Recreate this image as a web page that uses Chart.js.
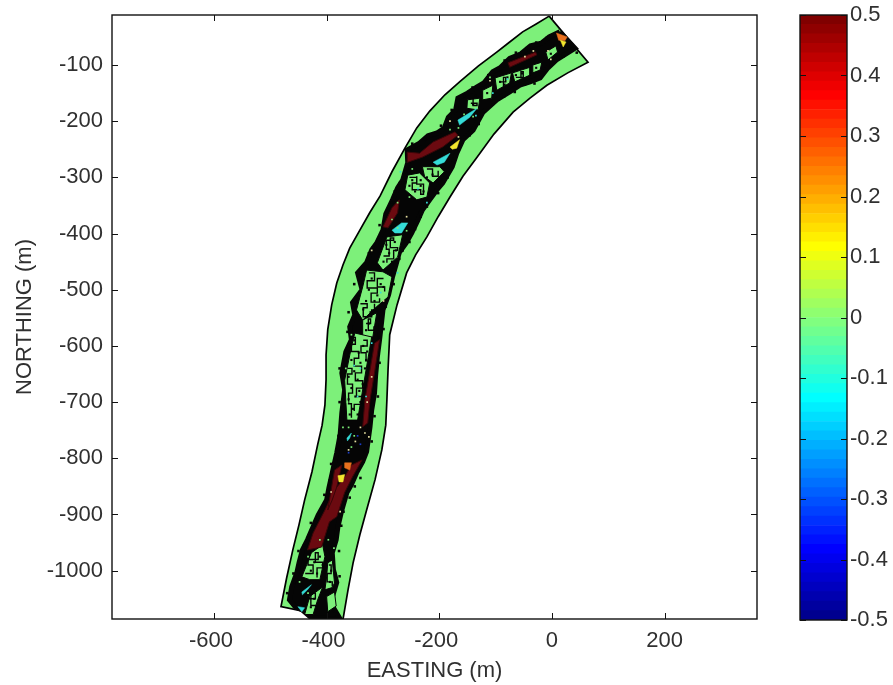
<!DOCTYPE html>
<html>
<head>
<meta charset="utf-8">
<title>Easting / Northing</title>
<script src="https://cdn.jsdelivr.net/npm/chart.js@4/dist/chart.umd.min.js"></script>
<style>
    html, body { margin: 0; padding: 0; background: #fff; }
    #wrap { position: relative; width: 893px; height: 685px; overflow: hidden; }
    #mapChart { position: absolute; left: 0; top: 0; }
    #barChart { position: absolute; left: 790px; top: 0; }
</style>
</head>
<body>
<div id="wrap">
    <canvas id="mapChart" width="893" height="685"></canvas>
    <canvas id="barChart" width="103" height="685"></canvas>
</div>
<script>
// Tick labels
const eastingTicks = [-600, -400, -200, 0, 200];
const northingTicks = [-100, -200, -300, -400, -500, -600, -700, -800, -900, -1000];
const colorbarTicks = [-0.5, -0.4, -0.3, -0.2, -0.1, 0, 0.1, 0.2, 0.3, 0.4, 0.5];

// Survey swath outline, [easting, northing]
const swathOutline = [
    [-5, -13], [-28, -27], [-52, -41], [-75, -59], [-98, -77], [-131, -102], [-163, -129], [-190, -153], [-217, -182],
    [-240, -212], [-261, -248], [-284, -290], [-305, -333], [-323, -362], [-341, -394], [-359, -426], [-371, -456],
    [-382, -488], [-391, -527], [-398, -571], [-401, -616], [-401, -660], [-403, -705], [-408, -741], [-416, -776],
    [-426, -824], [-439, -874], [-449, -918], [-460, -963], [-471, -1013], [-481, -1064],
    [-371, -1087], [-362, -1034], [-353, -986], [-341, -936], [-329, -892], [-314, -838], [-302, -785], [-295, -741],
    [-293, -696], [-291, -643], [-288, -580], [-275, -527], [-258, -470], [-242, -438], [-222, -406], [-202, -370],
    [-181, -335], [-158, -298], [-133, -264], [-103, -223], [-69, -184], [-39, -159], [-9, -136], [28, -114], [64, -95],
    [-5, -13]
];

// Contoured channel, mostly black at this scale
const channelCore = [
    [14, -41], [-5, -50], [-19, -61], [-38, -66], [-55, -80], [-75, -88], [-92, -105], [-105, -112], [-121, -132],
    [-133, -139], [-150, -150], [-167, -159], [-171, -180], [-184, -193], [-191, -212], [-204, -221], [-220, -226],
    [-235, -239], [-257, -251], [-256, -274], [-265, -305], [-274, -319], [-283, -340], [-295, -365], [-300, -394],
    [-311, -417], [-320, -429], [-329, -452], [-345, -470], [-337, -500], [-354, -523], [-350, -545], [-359, -566],
    [-356, -589], [-366, -611], [-373, -648], [-368, -678], [-373, -719], [-376, -758], [-382, -790], [-390, -826],
    [-396, -853], [-400, -874], [-415, -901], [-424, -922], [-434, -945], [-443, -963], [-449, -986], [-453, -1004],
    [-462, -1029], [-466, -1052], [-456, -1064], [-443, -1070], [-427, -1084], [-376, -1086], [-393, -1057],
    [-382, -1021], [-388, -998], [-390, -968], [-383, -945], [-380, -922], [-373, -892], [-364, -861], [-356, -847],
    [-347, -826], [-336, -806], [-329, -788], [-323, -744], [-320, -714], [-315, -684], [-313, -652], [-310, -620],
    [-306, -589], [-303, -563], [-300, -536], [-290, -509], [-283, -477], [-277, -456], [-271, -434], [-259, -417],
    [-249, -399], [-238, -376], [-230, -358], [-217, -340], [-204, -322], [-194, -310], [-177, -281], [-169, -257],
    [-158, -233], [-140, -216], [-123, -185], [-98, -162], [-75, -148], [-57, -136], [-39, -130], [-21, -123],
    [-7, -105], [8, -91], [41, -70], [14, -41]
];

// Near-zero patches inside the channel
const flatPatches = [
    [[-11, -77], [7, -66], [10, -77], [-7, -91], [-11, -77]],
    [[-34, -100], [-18, -95], [-21, -109], [-34, -114], [-34, -100]],
    [[-70, -114], [-39, -104], [-39, -118], [-66, -130], [-70, -114]],
    [[-101, -123], [-72, -114], [-75, -132], [-98, -145], [-101, -123]],
    [[-123, -145], [-105, -136], [-107, -159], [-123, -162], [-123, -145]],
    [[-150, -162], [-128, -159], [-131, -180], [-151, -177], [-150, -162]],
    [[-256, -296], [-235, -292], [-217, -310], [-222, -335], [-240, -340], [-261, -322], [-256, -296]],
    [[-230, -281], [-199, -281], [-191, -290], [-211, -310], [-226, -299], [-230, -281]],
    [[-293, -406], [-265, -402], [-274, -442], [-300, -465], [-310, -452], [-293, -406]],
    [[-329, -465], [-300, -468], [-284, -477], [-291, -513], [-311, -530], [-336, -554], [-347, -536], [-336, -495], [-329, -465]],
    [[-336, -554], [-311, -541], [-318, -584], [-337, -584], [-336, -554]],
    [[-350, -577], [-320, -584], [-327, -625], [-337, -684], [-345, -732], [-364, -732], [-368, -661], [-356, -602], [-350, -577]],
    [[-427, -968], [-407, -954], [-403, -975], [-412, -1016], [-430, -1016], [-444, -1011], [-434, -986], [-427, -968]],
    [[-398, -986], [-390, -981], [-386, -1022], [-390, -1030], [-403, -1034], [-400, -1011], [-398, -986]],
    [[-430, -1046], [-407, -1029], [-416, -1052], [-424, -1078], [-439, -1078], [-430, -1046]],
    [[-400, -1046], [-386, -1038], [-383, -1063], [-398, -1073], [-400, -1046]]
];

// Highest values
const highPatches = [
    [[-257, -255], [-235, -257], [-211, -237], [-172, -219], [-167, -225], [-194, -246], [-230, -264], [-256, -273], [-257, -255]],
    [[-78, -96], [-29, -77], [-27, -82], [-75, -104], [-78, -96]],
    [[-300, -388], [-284, -354], [-271, -340], [-274, -363], [-291, -390], [-300, -388]],
    [[-306, -589], [-315, -648], [-323, -696], [-327, -737], [-336, -744], [-332, -696], [-323, -643], [-315, -595], [-306, -589]],
    [[-337, -803], [-354, -833], [-368, -861], [-382, -904], [-395, -913], [-409, -958], [-434, -963], [-424, -933], [-403, -892], [-386, -856], [-371, -838], [-356, -812], [-337, -803]],
    [[-386, -821], [-373, -812], [-382, -851], [-390, -874], [-398, -892], [-386, -821]]
];

const orangePatches = [
    [[8, -43], [27, -50], [23, -57], [12, -56], [8, -43]],
    [[-368, -808], [-356, -808], [-359, -821], [-368, -817], [-368, -808]]
];

const yellowPatches = [
    [[15, -56], [25, -59], [20, -68], [15, -56]],
    [[-181, -246], [-164, -233], [-169, -248], [-177, -250], [-181, -246]],
    [[-380, -831], [-368, -829], [-371, -842], [-378, -842], [-380, -831]]
];

const cyanPatches = [
    [[-211, -273], [-181, -257], [-191, -273], [-204, -278], [-211, -273]],
    [[-167, -198], [-133, -177], [-146, -193], [-164, -207], [-167, -198]],
    [[-284, -394], [-267, -381], [-256, -381], [-267, -399], [-279, -399], [-284, -394]],
    [[-364, -764], [-356, -755], [-359, -764], [-363, -769], [-364, -764]],
    [[-444, -1038], [-427, -1025], [-434, -1034], [-443, -1043], [-444, -1038]],
    [[-451, -1064], [-439, -1066], [-444, -1073], [-451, -1064]]
];

// Contour lines running through the near-zero patches
const contourLines = [
    [[-358, -585], [-349, -597], [-356, -610], [-343, -622], [-351, -636], [-338, -648], [-349, -662], [-336, -675], [-347, -690], [-337, -704], [-351, -716]],
    [[-335, -590], [-328, -600], [-339, -612], [-330, -628]],
    [[-363, -640], [-355, -650], [-363, -668], [-354, -684], [-361, -703], [-356, -728]],
    [[-325, -470], [-315, -484], [-328, -497], [-310, -506], [-321, -522], [-306, -515]],
    [[-299, -480], [-310, -495], [-297, -503]],
    [[-340, -525], [-328, -532], [-335, -548], [-320, -536], [-315, -525]],
    [[-330, -560], [-322, -552], [-326, -572], [-316, -565]],
    [[-299, -440], [-289, -428], [-294, -412], [-281, -408], [-287, -425], [-274, -430], [-281, -445], [-293, -452]],
    [[-253, -300], [-240, -310], [-248, -322], [-233, -330], [-228, -312], [-240, -298]],
    [[-222, -285], [-212, -298], [-202, -288]],
    [[-438, -1005], [-424, -990], [-433, -980], [-415, -968], [-420, -985], [-407, -995], [-417, -1012]],
    [[-396, -990], [-392, -1005], [-399, -1020], [-390, -1028]],
    [[-433, -1050], [-420, -1040], [-428, -1062], [-417, -1070]],
    [[-94, -130], [-82, -122], [-86, -138]],
    [[-64, -122], [-51, -112], [-55, -124]],
    [[-144, -168], [-133, -172], [-140, -160]]
];

// Small contour islands
const blackSpecks = [
    [-351, -590], [-335, -600], [-343, -612], [-328, -610], [-356, -625], [-340, -630], [-332, -640], [-351, -645],
    [-361, -655], [-345, -660], [-336, -668], [-356, -675], [-349, -690], [-340, -700], [-361, -695], [-353, -712],
    [-345, -722], [-359, -722], [-330, -625], [-342, -680], [-320, -480], [-304, -490], [-325, -500], [-310, -510],
    [-299, -495], [-330, -520], [-315, -520], [-335, -535], [-322, -540], [-294, -420], [-279, -415], [-289, -435],
    [-277, -430], [-299, -450], [-284, -450], [-248, -305], [-233, -315], [-243, -325], [-253, -315], [-228, -325],
    [-222, -300], [-212, -295], [-233, -305], [-79, -122], [-64, -118], [-92, -130], [-84, -135], [-53, -115],
    [-115, -150], [-140, -170], [-135, -155], [-28, -105], [-2, -80], [-325, -560], [-330, -572], [-422, -985],
    [-412, -975], [-428, -1000], [-417, -1005], [-392, -1000], [-394, -1020], [-422, -1050], [-428, -1065], [-407, -990]
];
// Bumps on the channel edge
const edgeSpecks = [
    [-28, -60], [-64, -78], [-84, -92], [-113, -118], [-141, -140], [-178, -180], [-197, -208], [-248, -240],
    [-260, -290], [-279, -325], [-306, -385], [-325, -435], [-351, -490], [-361, -540], [-363, -575], [-377, -640],
    [-377, -700], [-379, -760], [-392, -810], [-404, -865], [-428, -915], [-450, -965], [-459, -1005], [-470, -1040],
    [44, -78], [-2, -100], [-31, -133], [-66, -148], [-105, -170], [-146, -225], [-176, -270], [-202, -328],
    [-233, -370], [-253, -415], [-271, -445], [-281, -490], [-295, -530], [-299, -570], [-306, -630], [-309, -690],
    [-315, -725], [-320, -770], [-340, -835], [-359, -870], [-374, -920], [-378, -965], [-377, -1010], [-387, -1050],
    [-10, -52], [-45, -70], [-155, -155], [-225, -232], [-270, -310], [-285, -345], [-318, -425], [-340, -470],
    [-360, -600], [-370, -670], [-375, -730], [-395, -840], [-420, -910], [-440, -955], [-457, -1020], [20, -85],
    [-48, -135], [-85, -156], [-130, -205], [-165, -250], [-185, -300], [-222, -352], [-243, -392], [-265, -430],
    [-305, -585], [-312, -655], [-325, -750], [-350, -850], [-370, -895], [-385, -1005]
];
const greenSpecks = [
    [-110, -122], [-156, -188], [-140, -192], [-181, -215], [-166, -212], [-248, -285], [-253, -335], [-274, -345],
    [-284, -375], [-274, -390], [-258, -395], [-310, -475], [-356, -580], [-366, -640], [-363, -700], [-361, -745],
    [-351, -760], [-371, -745], [-356, -780], [-433, -1040], [-448, -1020], [-433, -975], [-412, -945], [-397, -945],
    [-387, -960]
];
const paleSpecks = [
    [-110, -128], [-181, -200], [-166, -228], [-328, -700], [-320, -655], [-340, -745], [-332, -755], [-349, -770],
    [-325, -762], [-361, -785], [-376, -895], [-392, -860], [-299, -520], [-320, -430], [-258, -370], [-33, -75],
    [-48, -85], [-7, -75], [-2, -90]
];
const cyanSpecks = [
    [-105, -150], [-79, -125], [-135, -190], [-238, -320], [-222, -345], [-274, -470], [-304, -505], [-351, -635],
    [-330, -690], [-345, -690], [-340, -640], [-320, -595], [-269, -290]
];
const blueSpecks = [[-345, -760], [-340, -775], [-361, -790]];

// Colour ramp of the colorbar, bottom to top
const colorbarColors = [
    '#00008f', '#00009f', '#0000af', '#0000bf', '#0000cf', '#0000df', '#0000ef', '#0000ff',
    '#0010ff', '#0020ff', '#0030ff', '#0040ff', '#0050ff', '#0060ff', '#0070ff', '#0080ff',
    '#008fff', '#009fff', '#00afff', '#00bfff', '#00cfff', '#00dfff', '#00efff', '#00ffff',
    '#10ffef', '#20ffdf', '#30ffcf', '#40ffbf', '#50ffaf', '#60ff9f', '#70ff8f', '#80ff80',
    '#8fff70', '#9fff60', '#afff50', '#bfff40', '#cfff30', '#dfff20', '#efff10', '#ffff00',
    '#ffef00', '#ffdf00', '#ffcf00', '#ffbf00', '#ffaf00', '#ff9f00', '#ff8f00', '#ff8000',
    '#ff7000', '#ff6000', '#ff5000', '#ff4000', '#ff3000', '#ff2000', '#ff1000', '#ff0000',
    '#ef0000', '#df0000', '#cf0000', '#bf0000', '#af0000', '#9f0000', '#8f0000', '#800000'
];

const FONT = '"Liberation Sans", Arial, sans-serif';
const TEXT_COLOR = '#303030';
const FONT_SIZE = 22;

// Box around the plot with inward ticks on all four sides
const frameTicks = {
    id: 'frameTicks',
    afterDraw(chart) {
        const { ctx, chartArea: area, scales } = chart;
        const len = 6;
        ctx.save();
        ctx.strokeStyle = '#111';
        ctx.lineWidth = 1.4;
        ctx.strokeRect(area.left, area.top, area.right - area.left, area.bottom - area.top);
        ctx.lineWidth = 1;
        ctx.beginPath();
        if (scales.x.options.display) {
            scales.x.ticks.forEach(t => {
                const px = Math.round(scales.x.getPixelForValue(t.value)) + 0.5;
                ctx.moveTo(px, area.bottom);
                ctx.lineTo(px, area.bottom - len);
                ctx.moveTo(px, area.top);
                ctx.lineTo(px, area.top + len);
            });
        }
        scales.y.ticks.forEach(t => {
            const py = Math.round(scales.y.getPixelForValue(t.value)) + 0.5;
            ctx.moveTo(area.left, py);
            ctx.lineTo(area.left + len, py);
            ctx.moveTo(area.right, py);
            ctx.lineTo(area.right - len, py);
        });
        ctx.stroke();
        ctx.restore();
    }
};

function toPoints(pairs) {
    return pairs.map(p => ({ x: p[0], y: p[1] }));
}

function patchDataset(pairs, fillColor, edgeColor, edgeWidth) {
    return {
        data: toPoints(pairs),
        showLine: true,
        fill: 'shape',
        backgroundColor: fillColor,
        borderColor: edgeColor,
        borderWidth: edgeWidth,
        pointRadius: 0
    };
}

function contourDataset(pairs) {
    return {
        data: toPoints(pairs),
        showLine: true,
        fill: false,
        borderColor: '#050505',
        borderWidth: 1.4,
        pointRadius: 0,
        stepped: true
    };
}

function speckDataset(pairs, color, radius) {
    return {
        data: toPoints(pairs),
        showLine: false,
        pointStyle: 'rect',
        pointRadius: radius,
        pointBorderWidth: 0,
        backgroundColor: color
    };
}

function buildMapDatasets() {
    // Pushed in paint order, bottom layer first
    const layers = [
        patchDataset(swathOutline, '#7df07a', '#000', 1.7),
        patchDataset(channelCore, '#050505', '#050505', 5),
        speckDataset(edgeSpecks, '#050505', 1.8)
    ];
    flatPatches.forEach(p => layers.push(patchDataset(p, '#7df07a', '#050505', 1)));
    contourLines.forEach(p => layers.push(contourDataset(p)));
    highPatches.forEach(p => layers.push(patchDataset(p, '#6b0a10', '#3a0508', 1)));
    orangePatches.forEach(p => layers.push(patchDataset(p, '#e8701e', '#e8701e', 0.5)));
    yellowPatches.forEach(p => layers.push(patchDataset(p, '#f2e52e', '#f2e52e', 0.5)));
    cyanPatches.forEach(p => layers.push(patchDataset(p, '#35dcd8', '#35dcd8', 0.5)));
    layers.push(speckDataset(blackSpecks, '#050505', 1.5));
    layers.push(speckDataset(greenSpecks, '#7df07a', 1.2));
    layers.push(speckDataset(paleSpecks, '#e6e0a0', 1.2));
    layers.push(speckDataset(cyanSpecks, '#35dcd8', 1.2));
    layers.push(speckDataset(blueSpecks, '#1a3cc8', 1.2));
    layers.forEach((d, i) => { d.order = -i; });
    return layers;
}

function useTicks(values) {
    return scale => { scale.ticks = values.map(v => ({ value: v })); };
}

// Labels of negative ticks sit a little left of their tick, as in the MATLAB figure
const eastingLabel = v => (v < 0 ? `${v} ` : String(v));

const mapChart = new Chart(document.getElementById('mapChart'), {
    type: 'scatter',
    data: { datasets: buildMapDatasets() },
    options: {
        responsive: false,
        animation: false,
        layout: { padding: { top: 15, right: 136, left: 0, bottom: 0 } },
        plugins: { legend: { display: false }, tooltip: { enabled: false } },
        scales: {
            x: {
                type: 'linear',
                min: -781,
                max: 364,
                afterBuildTicks: useTicks(eastingTicks),
                afterFit(scale) {
                    scale.height = 66;
                    scale.paddingLeft = 0;
                    scale.paddingRight = 0;
                },
                grid: { display: false, drawTicks: false },
                border: { display: false },
                ticks: {
                    autoSkip: false,
                    maxRotation: 0,
                    padding: 9,
                    color: TEXT_COLOR,
                    font: { family: FONT, size: FONT_SIZE },
                    callback: eastingLabel
                },
                title: {
                    display: true,
                    text: 'EASTING (m)',
                    color: TEXT_COLOR,
                    font: { family: FONT, size: FONT_SIZE },
                    padding: { top: 0, bottom: 1 }
                }
            },
            y: {
                type: 'linear',
                min: -1086,
                max: -11,
                afterBuildTicks: useTicks(northingTicks),
                afterFit(scale) {
                    scale.width = 112;
                    scale.paddingTop = 0;
                    scale.paddingBottom = 0;
                },
                grid: { display: false, drawTicks: false },
                border: { display: false },
                ticks: {
                    autoSkip: false,
                    padding: 9,
                    color: TEXT_COLOR,
                    font: { family: FONT, size: FONT_SIZE },
                    callback: v => String(v)
                },
                title: {
                    display: true,
                    text: 'NORTHING (m)',
                    color: TEXT_COLOR,
                    font: { family: FONT, size: FONT_SIZE },
                    padding: { top: 12, bottom: 0 }
                }
            }
        }
    },
    plugins: [frameTicks]
});

// Colorbar: one floating bar per colour level
const barChart = new Chart(document.getElementById('barChart'), {
    type: 'bar',
    data: {
        labels: ['level'],
        datasets: colorbarColors.map((color, i) => ({
            data: [[-0.5 + i / colorbarColors.length, -0.5 + (i + 1) / colorbarColors.length]],
            backgroundColor: color,
            borderWidth: 0,
            grouped: false,
            barPercentage: 1,
            categoryPercentage: 1
        }))
    },
    options: {
        responsive: false,
        animation: false,
        layout: { padding: { top: 15, right: 0, left: 10, bottom: 65 } },
        plugins: { legend: { display: false }, tooltip: { enabled: false } },
        scales: {
            x: { display: false },
            y: {
                position: 'right',
                min: -0.5,
                max: 0.5,
                afterBuildTicks: useTicks(colorbarTicks),
                afterFit(scale) {
                    scale.width = 46;
                    scale.paddingTop = 0;
                    scale.paddingBottom = 0;
                },
                grid: { display: false, drawTicks: false },
                border: { display: false },
                ticks: {
                    autoSkip: false,
                    padding: 3,
                    color: TEXT_COLOR,
                    font: { family: FONT, size: FONT_SIZE },
                    callback: v => String(v)
                }
            }
        }
    },
    plugins: [frameTicks]
});
</script>
</body>
</html>
